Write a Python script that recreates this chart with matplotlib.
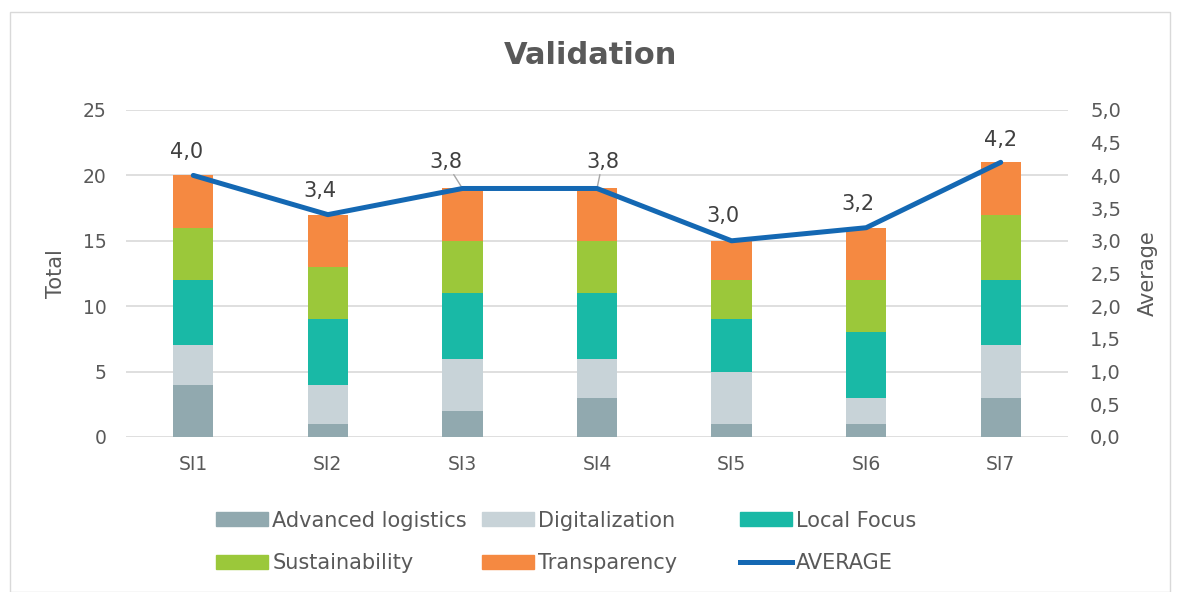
import matplotlib
matplotlib.use("Agg")
import matplotlib.pyplot as plt
import numpy as np
from matplotlib.patches import Rectangle
from matplotlib.lines import Line2D

categories = ["SI1", "SI2", "SI3", "SI4", "SI5", "SI6", "SI7"]
advanced_logistics = [4, 1, 2, 3, 1, 1, 3]
digitalization = [3, 3, 4, 3, 4, 2, 4]
local_focus = [5, 5, 5, 5, 4, 5, 5]
sustainability = [4, 4, 4, 4, 3, 4, 5]
transparency = [4, 4, 4, 4, 3, 4, 4]
average = [4.0, 3.4, 3.8, 3.8, 3.0, 3.2, 4.2]
average_labels = ["4,0", "3,4", "3,8", "3,8", "3,0", "3,2", "4,2"]

series_names = ["Advanced logistics", "Digitalization", "Local Focus", "Sustainability", "Transparency"]
series = [advanced_logistics, digitalization, local_focus, sustainability, transparency]
colors = ["#91a9af", "#c8d3d8", "#19b9a6", "#9bc83a", "#f58941"]
line_color = "#1468b3"
text_color = "#595959"

plt.rcParams['font.family'] = ['DejaVu Sans']

fig = plt.figure(figsize=(11.82, 5.92), dpi=100)
ax = fig.add_axes([126/1182, 1 - 437/592, (1068-126)/1182, (437-110)/592])
ax2 = ax.twinx()

x = np.arange(len(categories))
bottom = np.zeros(len(categories))
for name, vals, c in zip(series_names, series, colors):
    ax.bar(x, vals, 0.3, bottom=bottom, color=c, label=name, zorder=2)
    bottom += np.array(vals)

ax.set_xlim(-0.5, len(categories) - 0.5)
ax.set_ylim(0, 25)
ax.set_yticks(range(0, 26, 5))
ax.grid(axis='y', color='#d9d9d9', linewidth=1.2, zorder=0)
ax.set_axisbelow(True)
for s in ax.spines.values():
    s.set_visible(False)
for s in ax2.spines.values():
    s.set_visible(False)
ax.tick_params(axis='both', length=0, labelsize=13.5, colors=text_color, pad=14)
ax.tick_params(axis='x', pad=13)
ax.set_xticks(x)
ax.set_xticklabels(categories)
ax.set_ylabel("Total", fontsize=15, color=text_color, labelpad=12)

ax2.plot(x, average, color=line_color, linewidth=3.6, zorder=5, solid_capstyle='round')
ax2.set_ylim(0, 5)
ax2.set_yticks(np.arange(0, 5.01, 0.5))
ax2.set_yticklabels([f"{v:.1f}".replace('.', ',') for v in np.arange(0, 5.01, 0.5)])
ax2.tick_params(axis='y', length=0, labelsize=14, colors=text_color, pad=16)
ax2.set_ylabel("Average", fontsize=15, color=text_color, labelpad=12)

offsets = [(-5, 10), (-6, 10), (-12, 12), (4, 12), (-6.5, 11), (-6, 10), (0, 9)]
leaders = [False, False, True, True, False, False, False]
for xi, yi, lab, off, ld in zip(x, average, average_labels, offsets, leaders):
    kw = {}
    if ld:
        kw['arrowprops'] = dict(arrowstyle='-', color='#a6a6a6', lw=1.0,
                                shrinkA=0, shrinkB=1)
    ax2.annotate(lab, (xi, yi), xytext=off, textcoords='offset points',
                 ha='center', va='bottom', fontsize=15, color='#404040', **kw)

fig.text(0.5, 1 - 55/592, "Validation", ha='center', va='center', fontsize=22,
         fontweight='bold', color=text_color)

handles = [Rectangle((0, 0), 1, 1, color=c) for c in colors] + \
          [Line2D([0], [0], color=line_color, linewidth=3.6)]
labels = series_names + ["AVERAGE"]
col_x = [216/1182, 482/1182, 740/1182]
columns = [[0, 3], [1, 4], [2, 5]]
for cx, idxs in zip(col_x, columns):
    fig.legend([handles[i] for i in idxs], [labels[i] for i in idxs],
               loc='center left', bbox_to_anchor=(cx, 1 - 542/592),
               ncol=1, frameon=False, fontsize=15, labelcolor=text_color,
               handlelength=2.5, handleheight=0.65, handletextpad=0.2,
               borderpad=0, borderaxespad=0, labelspacing=1.1)

fig.patches.append(Rectangle((10/1182, 0), 1160/1182, 1 - 12/592, transform=fig.transFigure,
                             fill=False, edgecolor='#d9d9d9', linewidth=1))

fig.savefig("out.png", dpi=100)
